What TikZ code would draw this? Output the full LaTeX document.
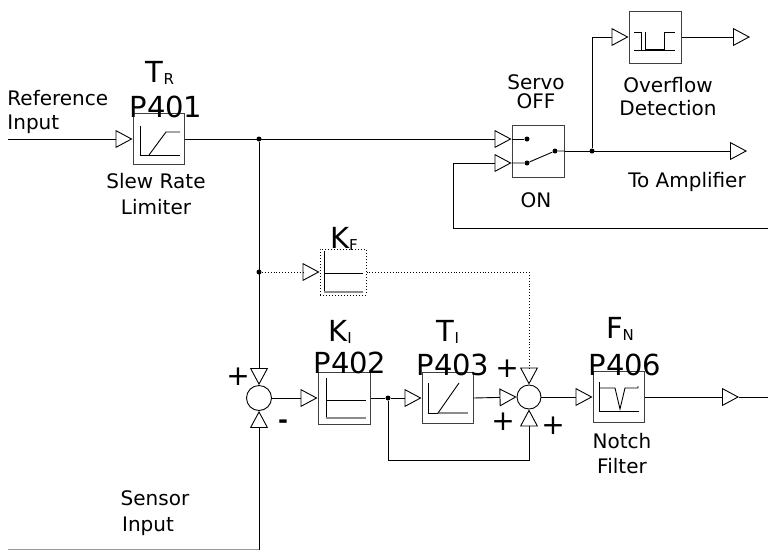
\documentclass[tikz,border=0pt]{standalone}
\usepackage{fontspec}
\setmainfont{DejaVu Sans}
\usetikzlibrary{arrows.meta,calc}
\newcommand{\mysub}[1]{\raisebox{-2pt}{\fontsize{15}{15}\selectfont #1}}
\begin{document}
\begin{tikzpicture}[x=1pt,y=-1pt,
  line width=0.9pt,
  blk/.style={draw=black!75, line width=1pt, minimum width=#1, minimum height=#1, inner sep=0pt},
  blk/.default=51pt,
  arr/.style={-{Triangle[open,length=17pt,width=18pt,line width=0.9pt]}},
  sumj/.style={circle, draw, minimum size=24pt, inner sep=0pt},
  dotn/.style={circle, fill, inner sep=0pt, minimum size=5pt},
  small/.style={font=\fontsize{20}{22}\selectfont, inner sep=0pt, anchor=base},
  big/.style={font=\fontsize{29}{30}\selectfont, inner sep=0pt, anchor=base},
  sgn/.style={font=\fontsize{28}{28}\selectfont, inner sep=0pt},
  inner/.style={line width=0.9pt},
  innergray/.style={line width=1.4pt, black!45}
]
\useasboundingbox (0,0) rectangle (768,550);
% blocks
\node[blk] (slew) at (158.5,139) {};
\node[blk=52pt] (sw) at (538,151) {};
\node[blk=52pt] (ovf) at (655,37) {};
\node[blk=46pt, dotted, draw=black] (kf) at (343,272) {};
\node[blk=52pt] (ki) at (344,398) {};
\node[blk] (ti) at (447.5,398) {};
\node[blk] (fn) at (618.5,397) {};
\node[sumj, minimum size=25pt] (s1) at (259,398) {};
\node[sumj] (s2) at (529,397) {};
% junctions
\node[dotn] (d1) at (259,139) {};
\node[dotn] (d2) at (259,272) {};
\node[dotn] (d3) at (388,398) {};
\node[dotn] (d4) at (592,151) {};
\node[dotn] (sa) at (527,139) {};
\node[dotn] (sb) at (527,163) {};
\node[dotn] (sc) at (555,151) {};
% free ends
\coordinate (refin) at (8,139);
\coordinate (sensor) at (259,550);
\coordinate (fbR) at (768,228);
\coordinate (fbC) at (453,228);
\coordinate (amp) at (747,151);
\coordinate (ovfout) at (750,37);
\coordinate (out) at (739,397);
\coordinate (outend) at (768,397);
\coordinate (swi1) at ($(sw.west)+(0,-12)$);
\coordinate (swi2) at ($(sw.west)+(0,12)$);
% connectors
\draw[arr] (refin) -- (slew.west);
\draw[arr] (slew.east) -- (swi1);
\draw[arr] (d1) -- (s1.north);
\draw[arr] (sensor) -- (s1.south);
\draw[arr] (s1.east) -- (ki.west);
\draw (ki.east) -- (d3);
\draw[arr] (d3) -- (ti.west);
\draw[arr] (ti.east) -- (s2.west);
\draw[arr] (d3) -- ++(0,62) -| (s2.south);
\draw[arr, dotted] (d2) -- (kf.west);
\draw[arr, dotted] (kf.east) -| (s2.north);
\draw[arr] (s2.east) -- (fn.west);
\draw[arr] (fn.east) -- (out);
\draw (out) -- (outend);
\draw[arr] (fbR) -- (fbC) |- (swi2);
\draw (swi1) -- (sa);
\draw (swi2) -- (sb) -- (sc) -- (sw.east);
\draw[arr] (sw.east) -- (amp);
\draw[arr] (d4) |- (ovf.west);
\draw[arr] (ovf.east) -- (ovfout);
\draw[black!40] (8,549.5) -- (259,549.5);
% block symbols
\draw[inner] (140,126) -- (140,155) -- (180,155);
\draw[inner] (149,155) -- (166,132) -- (180,132);
\draw[inner] (324,251) -- (324,292);
\draw[inner] (324,273) -- (363,273);
\draw[innergray] (324,292) -- (363,292);
\draw[inner] (326,378) -- (326,418);
\draw[inner] (326,400) -- (366,400);
\draw[innergray] (326,418) -- (366,418);
\draw[inner] (428,383) -- (428,413) -- (438,413);
\draw[innergray] (438,413) -- (468,413);
\draw[inner] (438,413) -- (459,383);
\draw[inner] (599,382) -- (599,411) -- (639,411);
\draw[inner] (599,388) -- (615,388) -- (620,409) -- (625,388) -- (638,388) -- (638,386);
\draw[inner] (634,32) -- (641,32) -- (641,50);
\draw[inner] (645,32) -- (645,50);
\draw[inner] (664,50) -- (664,32) -- (675,32);
\draw[inner] (634,50) -- (675,50);
\draw[line width=2pt] (645,50) -- (664,50);
% labels
\node[small, anchor=base west] (t1) at (7,105) {Reference};
\node[small, anchor=base west] (t2) at (7,129) {Input};
\node[big] (t3) at (160,82) {T\mysub{R}};
\node[big] (t4) at (166,117) {P401};
\node[small] (t5) at (156,188) {Slew Rate};
\node[small] (t6) at (156,214) {Limiter};
\node[small] (t7) at (536,89) {Servo};
\node[small] (t8) at (536,108) {OFF};
\node[small] (t9) at (536,207) {ON};
\node[small] (t10) at (668,92) {Overflow};
\node[small] (t11) at (668,115) {Detection};
\node[small] (t12) at (687,187) {To Amplifier};
\node[big] (t13) at (344,248) {K\mysub{F}};
\node[big] (t14) at (340,341) {K\mysub{I}};
\node[big] (t15) at (350,373) {P402};
\node[big] (t16) at (448,341) {T\mysub{I}};
\node[big] (t17) at (453,375) {P403};
\node[big] (t18) at (620,338) {F\mysub{N}};
\node[big] (t19) at (625,375) {P406};
\node[small] (t20) at (622,448) {Notch};
\node[small] (t21) at (622,473) {Filter};
\node[small] (t22) at (155,505) {Sensor};
\node[small] (t23) at (148,531) {Input};
\node[sgn] (p1) at (238,377) {+};
\node[sgn] (p2) at (507,369) {+};
\node[sgn] (p3) at (503,422) {+};
\node[sgn] (p4) at (553,426) {+};
\node[font=\fontsize{24}{24}\selectfont\bfseries, inner sep=0pt] (m1) at (283,424) {-};
\end{tikzpicture}
\end{document}
